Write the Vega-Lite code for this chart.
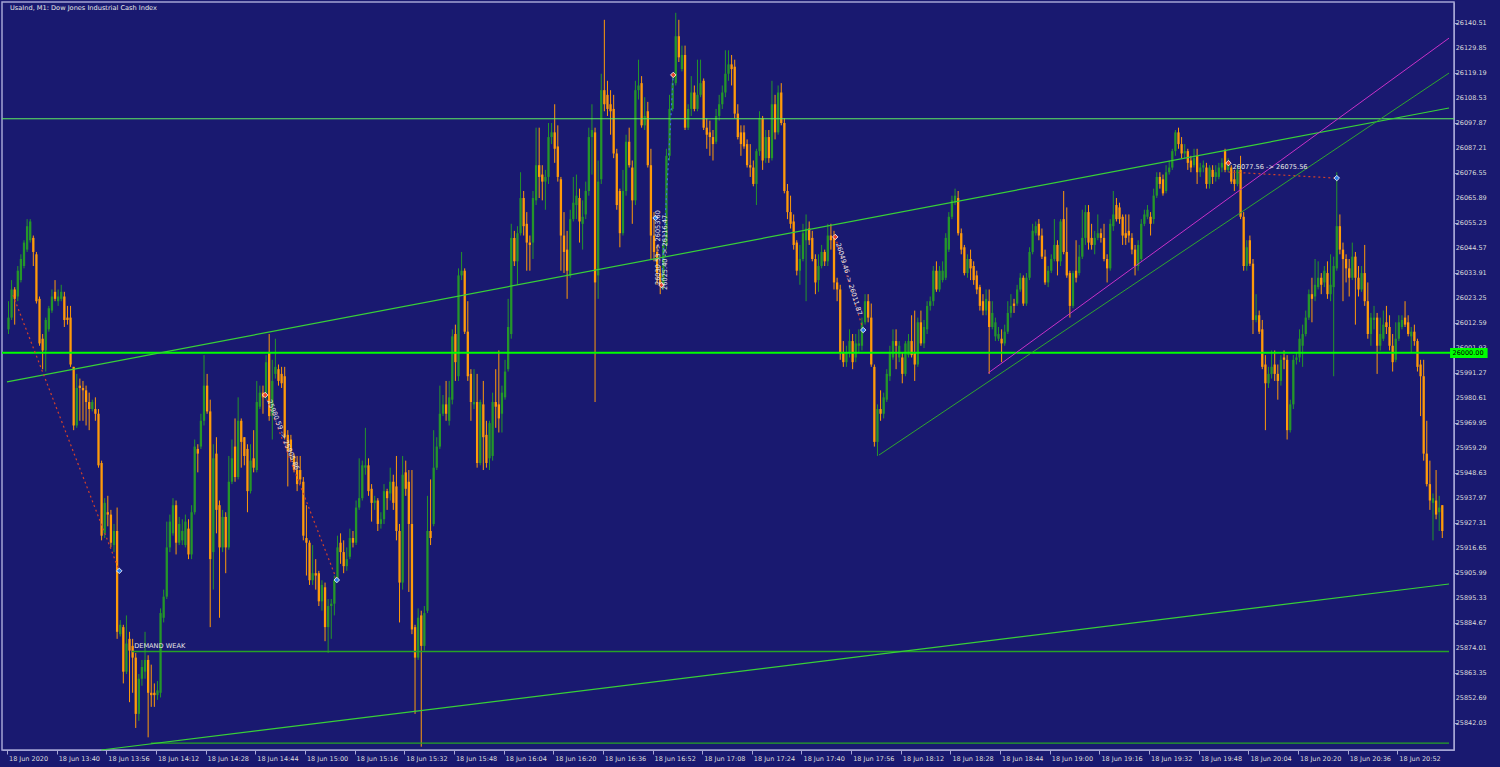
{
  "$schema": "https://vega.github.io/schema/vega-lite/v6.json",
  "description": "UsaInd M1 candles, 18 Jun 2020",
  "width": 1452,
  "height": 748,
  "autosize": {"type": "none"},
  "padding": {"left": 2, "top": 2, "right": 46, "bottom": 17},
  "background": "#191970",
  "config": {
    "view": {"stroke": "#a4a4d4", "strokeWidth": 1.5},
    "font": "DejaVu Sans",
    "axis": {"grid": false, "domainColor": "#a4a4d4", "tickColor": "#a4a4d4", "tickSize": 4, "labelColor": "#dcdcdc", "labelFont": "DejaVu Sans", "labelFontSize": 6.5, "labelOverlap": false, "labelBound": false, "labelFlush": false}
  },
  "datasets": {
    "candles": [
      {"t":0,"o":26010,"h":26022,"l":26008,"c":26015},{"t":1,"o":26015,"h":26031,"l":26014,"c":26027},{"t":2,"o":26027,"h":26028,"l":26012,"c":26023},{"t":3,"o":26024,"h":26037,"l":26022,"c":26035},{"t":4,"o":26031,"h":26042,"l":26030,"c":26040},
      {"t":5,"o":26037,"h":26048,"l":26036,"c":26047},{"t":6,"o":26044,"h":26057,"l":26043,"c":26054},{"t":7,"o":26048,"h":26057,"l":26047,"c":26056},{"t":8,"o":26049,"h":26050,"l":26037,"c":26043},{"t":9,"o":26042,"h":26043,"l":26021,"c":26022},
      {"t":10,"o":26023,"h":26024,"l":26003,"c":26004},{"t":11,"o":26006,"h":26008,"l":25993,"c":26001},{"t":12,"o":26001,"h":26015,"l":25992,"c":26014},{"t":13,"o":26010,"h":26020,"l":26009,"c":26019},{"t":14,"o":26018,"h":26027,"l":26017,"c":26024},
      {"t":15,"o":26026,"h":26031,"l":26022,"c":26023},{"t":16,"o":26022,"h":26027,"l":26020,"c":26024},{"t":17,"o":26023,"h":26029,"l":26022,"c":26026},{"t":18,"o":26024,"h":26026,"l":26011,"c":26014},{"t":19,"o":26015,"h":26020,"l":26012,"c":26014},
      {"t":20,"o":26015,"h":26020,"l":25994,"c":25995},{"t":21,"o":25994,"h":25994,"l":25967,"c":25969},{"t":22,"o":25969,"h":25991,"l":25968,"c":25985},{"t":23,"o":25986,"h":25989,"l":25971,"c":25985},{"t":24,"o":25985,"h":25988,"l":25971,"c":25984},
      {"t":25,"o":25984,"h":25986,"l":25969,"c":25979},{"t":26,"o":25979,"h":25983,"l":25967,"c":25976},{"t":27,"o":25976,"h":25980,"l":25975,"c":25979},{"t":28,"o":25976,"h":25981,"l":25971,"c":25974},{"t":29,"o":25974,"h":25976,"l":25951,"c":25952},
      {"t":30,"o":25953,"h":25954,"l":25920,"c":25922},{"t":31,"o":25923,"h":25938,"l":25921,"c":25936},{"t":32,"o":25932,"h":25939,"l":25926,"c":25931},{"t":33,"o":25931,"h":25933,"l":25917,"c":25919},{"t":34,"o":25918,"h":25927,"l":25915,"c":25924},
      {"t":35,"o":25924,"h":25934,"l":25878,"c":25881},{"t":36,"o":25880,"h":25886,"l":25879,"c":25884},{"t":37,"o":25883,"h":25884,"l":25859,"c":25864},{"t":38,"o":25864,"h":25888,"l":25863,"c":25876},{"t":39,"o":25878,"h":25881,"l":25851,"c":25873},
      {"t":40,"o":25875,"h":25878,"l":25855,"c":25870},{"t":41,"o":25870,"h":25872,"l":25840,"c":25846},{"t":42,"o":25846,"h":25863,"l":25843,"c":25861},{"t":43,"o":25861,"h":25869,"l":25858,"c":25866},{"t":44,"o":25864,"h":25881,"l":25861,"c":25869},
      {"t":45,"o":25869,"h":25871,"l":25836,"c":25855},{"t":46,"o":25855,"h":25867,"l":25849,"c":25854},{"t":47,"o":25855,"h":25859,"l":25849,"c":25854},{"t":48,"o":25854,"h":25860,"l":25852,"c":25856},{"t":49,"o":25855,"h":25891,"l":25853,"c":25889},
      {"t":50,"o":25887,"h":25899,"l":25885,"c":25896},{"t":51,"o":25896,"h":25928,"l":25895,"c":25917},{"t":52,"o":25917,"h":25931,"l":25915,"c":25928},{"t":53,"o":25923,"h":25938,"l":25922,"c":25935},{"t":54,"o":25935,"h":25937,"l":25914,"c":25919},
      {"t":55,"o":25919,"h":25930,"l":25918,"c":25927},{"t":56,"o":25920,"h":25929,"l":25918,"c":25924},{"t":57,"o":25918,"h":25931,"l":25917,"c":25928},{"t":58,"o":25925,"h":25929,"l":25912,"c":25914},{"t":59,"o":25914,"h":25935,"l":25912,"c":25932},
      {"t":60,"o":25932,"h":25963,"l":25931,"c":25960},{"t":61,"o":25959,"h":25961,"l":25949,"c":25957},{"t":62,"o":25960,"h":25974,"l":25959,"c":25971},{"t":63,"o":25971,"h":25999,"l":25969,"c":25986},{"t":64,"o":25986,"h":25991,"l":25974,"c":25975},
      {"t":65,"o":25975,"h":25980,"l":25883,"c":25912},{"t":66,"o":25915,"h":25961,"l":25899,"c":25955},{"t":67,"o":25957,"h":25964,"l":25923,"c":25933},{"t":68,"o":25935,"h":25937,"l":25887,"c":25917},{"t":69,"o":25917,"h":25933,"l":25915,"c":25930},
      {"t":70,"o":25930,"h":25932,"l":25906,"c":25917},{"t":71,"o":25917,"h":25956,"l":25916,"c":25945},{"t":72,"o":25945,"h":25963,"l":25944,"c":25955},{"t":73,"o":25960,"h":25972,"l":25945,"c":25947},{"t":74,"o":25947,"h":25981,"l":25946,"c":25971},
      {"t":75,"o":25971,"h":25972,"l":25951,"c":25962},{"t":76,"o":25964,"h":25964,"l":25952,"c":25956},{"t":77,"o":25959,"h":25961,"l":25932,"c":25941},{"t":78,"o":25941,"h":25961,"l":25940,"c":25954},{"t":79,"o":25955,"h":25967,"l":25949,"c":25951},
      {"t":80,"o":25950,"h":25988,"l":25949,"c":25979},{"t":81,"o":25977,"h":25986,"l":25976,"c":25983},{"t":82,"o":25983,"h":25986,"l":25974,"c":25981},{"t":83,"o":25981,"h":25999,"l":25980,"c":25996},{"t":84,"o":26000,"h":26008,"l":25971,"c":25973},
      {"t":85,"o":25973,"h":25997,"l":25963,"c":25988},{"t":86,"o":25991,"h":26006,"l":25989,"c":25994},{"t":87,"o":25993,"h":25995,"l":25986,"c":25988},{"t":88,"o":25991,"h":25994,"l":25985,"c":25987},{"t":89,"o":25990,"h":25994,"l":25963,"c":25964},
      {"t":90,"o":25965,"h":25967,"l":25943,"c":25958},{"t":91,"o":25963,"h":25965,"l":25954,"c":25958},{"t":92,"o":25956,"h":25957,"l":25949,"c":25950},{"t":93,"o":25950,"h":25956,"l":25941,"c":25944},{"t":94,"o":25950,"h":25956,"l":25944,"c":25946},
      {"t":95,"o":25945,"h":25947,"l":25920,"c":25922},{"t":96,"o":25921,"h":25935,"l":25905,"c":25919},{"t":97,"o":25919,"h":25920,"l":25901,"c":25903},{"t":98,"o":25903,"h":25918,"l":25901,"c":25906},{"t":99,"o":25906,"h":25912,"l":25899,"c":25905},
      {"t":100,"o":25906,"h":25907,"l":25892,"c":25894},{"t":101,"o":25894,"h":25903,"l":25890,"c":25901},{"t":102,"o":25900,"h":25902,"l":25877,"c":25883},{"t":103,"o":25883,"h":25895,"l":25872,"c":25892},{"t":104,"o":25892,"h":25895,"l":25878,"c":25893},
      {"t":105,"o":25893,"h":25905,"l":25888,"c":25903},{"t":106,"o":25903,"h":25922,"l":25902,"c":25917},{"t":107,"o":25919,"h":25923,"l":25910,"c":25915},{"t":108,"o":25915,"h":25920,"l":25906,"c":25909},{"t":109,"o":25909,"h":25917,"l":25907,"c":25912},
      {"t":110,"o":25913,"h":25925,"l":25912,"c":25921},{"t":111,"o":25921,"h":25924,"l":25917,"c":25919},{"t":112,"o":25919,"h":25937,"l":25918,"c":25934},{"t":113,"o":25934,"h":25955,"l":25933,"c":25938},{"t":114,"o":25938,"h":25954,"l":25937,"c":25952},
      {"t":115,"o":25951,"h":25968,"l":25948,"c":25952},{"t":116,"o":25952,"h":25955,"l":25939,"c":25941},{"t":117,"o":25942,"h":25944,"l":25928,"c":25936},{"t":118,"o":25936,"h":25939,"l":25933,"c":25937},{"t":119,"o":25937,"h":25938,"l":25924,"c":25927},
      {"t":120,"o":25927,"h":25932,"l":25925,"c":25929},{"t":121,"o":25929,"h":25944,"l":25927,"c":25941},{"t":122,"o":25941,"h":25942,"l":25933,"c":25938},{"t":123,"o":25940,"h":25951,"l":25937,"c":25945},{"t":124,"o":25945,"h":25948,"l":25933,"c":25936},
      {"t":125,"o":25943,"h":25956,"l":25920,"c":25924},{"t":126,"o":25924,"h":25927,"l":25885,"c":25902},{"t":127,"o":25902,"h":25956,"l":25899,"c":25948},{"t":128,"o":25949,"h":25954,"l":25939,"c":25942},{"t":129,"o":25945,"h":25950,"l":25898,"c":25927},
      {"t":130,"o":25927,"h":25950,"l":25880,"c":25882},{"t":131,"o":25883,"h":25884,"l":25846,"c":25870},{"t":132,"o":25870,"h":25891,"l":25869,"c":25887},{"t":133,"o":25888,"h":25890,"l":25832,"c":25875},{"t":134,"o":25875,"h":25892,"l":25873,"c":25889},
      {"t":135,"o":25890,"h":25939,"l":25889,"c":25924},{"t":136,"o":25924,"h":25946,"l":25918,"c":25921},{"t":137,"o":25927,"h":25967,"l":25926,"c":25951},{"t":138,"o":25951,"h":25964,"l":25950,"c":25960},{"t":139,"o":25960,"h":25986,"l":25959,"c":25974},
      {"t":140,"o":25974,"h":25982,"l":25973,"c":25978},{"t":141,"o":25978,"h":25988,"l":25971,"c":25974},{"t":142,"o":25971,"h":25988,"l":25969,"c":25981},{"t":143,"o":25980,"h":26010,"l":25978,"c":26007},{"t":144,"o":26008,"h":26012,"l":25988,"c":25996},
      {"t":145,"o":25990,"h":26036,"l":25988,"c":26033},{"t":146,"o":26033,"h":26043,"l":26031,"c":26035},{"t":147,"o":26035,"h":26036,"l":26008,"c":26009},{"t":148,"o":26009,"h":26022,"l":25988,"c":25990},{"t":149,"o":25991,"h":25993,"l":25971,"c":25979},
      {"t":150,"o":25978,"h":25993,"l":25976,"c":25979},{"t":151,"o":25979,"h":25991,"l":25951,"c":25953},{"t":152,"o":25953,"h":25980,"l":25952,"c":25979},{"t":153,"o":25978,"h":25988,"l":25950,"c":25964},{"t":154,"o":25965,"h":25971,"l":25951,"c":25953},
      {"t":155,"o":25955,"h":25971,"l":25950,"c":25970},{"t":156,"o":25956,"h":25983,"l":25954,"c":25979},{"t":157,"o":25979,"h":25993,"l":25968,"c":25977},{"t":158,"o":25978,"h":26001,"l":25966,"c":25972},{"t":159,"o":25974,"h":25986,"l":25966,"c":25983},
      {"t":160,"o":25981,"h":25997,"l":25980,"c":25992},{"t":161,"o":25993,"h":26023,"l":25992,"c":26011},{"t":162,"o":26008,"h":26055,"l":26006,"c":26049},{"t":163,"o":26049,"h":26052,"l":26037,"c":26039},{"t":164,"o":26039,"h":26054,"l":26029,"c":26051},
      {"t":165,"o":26051,"h":26077,"l":26050,"c":26066},{"t":166,"o":26066,"h":26069,"l":26050,"c":26054},{"t":167,"o":26055,"h":26060,"l":26035,"c":26047},{"t":168,"o":26047,"h":26050,"l":26035,"c":26046},{"t":169,"o":26047,"h":26069,"l":26040,"c":26066},
      {"t":170,"o":26065,"h":26096,"l":26063,"c":26080},{"t":171,"o":26080,"h":26096,"l":26066,"c":26075},{"t":172,"o":26076,"h":26080,"l":26065,"c":26073},{"t":173,"o":26073,"h":26078,"l":26061,"c":26075},{"t":174,"o":26075,"h":26098,"l":26072,"c":26092},
      {"t":175,"o":26092,"h":26098,"l":26089,"c":26094},{"t":176,"o":26094,"h":26106,"l":26081,"c":26087},{"t":177,"o":26088,"h":26097,"l":26073,"c":26075},{"t":178,"o":26074,"h":26075,"l":26035,"c":26050},{"t":179,"o":26050,"h":26060,"l":26034,"c":26043},
      {"t":180,"o":26044,"h":26052,"l":26023,"c":26035},{"t":181,"o":26033,"h":26061,"l":26032,"c":26057},{"t":182,"o":26057,"h":26075,"l":26056,"c":26064},{"t":183,"o":26063,"h":26076,"l":26057,"c":26067},{"t":184,"o":26066,"h":26070,"l":26047,"c":26056},
      {"t":185,"o":26055,"h":26065,"l":26044,"c":26058},{"t":186,"o":26059,"h":26073,"l":26057,"c":26069},{"t":187,"o":26069,"h":26096,"l":26067,"c":26092},{"t":188,"o":26092,"h":26106,"l":26076,"c":26095},{"t":189,"o":26094,"h":26096,"l":25979,"c":26030},
      {"t":190,"o":26033,"h":26082,"l":26023,"c":26073},{"t":191,"o":26074,"h":26119,"l":26072,"c":26112},{"t":192,"o":26112,"h":26142,"l":26103,"c":26106},{"t":193,"o":26110,"h":26116,"l":26101,"c":26104},{"t":194,"o":26106,"h":26112,"l":26093,"c":26103},
      {"t":195,"o":26104,"h":26110,"l":26083,"c":26085},{"t":196,"o":26085,"h":26087,"l":26061,"c":26063},{"t":197,"o":26069,"h":26070,"l":26045,"c":26051},{"t":198,"o":26051,"h":26078,"l":26050,"c":26069},{"t":199,"o":26069,"h":26093,"l":26067,"c":26090},
      {"t":200,"o":26090,"h":26096,"l":26079,"c":26080},{"t":201,"o":26079,"h":26082,"l":26055,"c":26065},{"t":202,"o":26065,"h":26116,"l":26063,"c":26112},{"t":203,"o":26112,"h":26125,"l":26108,"c":26114},{"t":204,"o":26115,"h":26118,"l":26096,"c":26097},
      {"t":205,"o":26097,"h":26109,"l":26095,"c":26101},{"t":206,"o":26103,"h":26107,"l":26079,"c":26080},{"t":207,"o":26080,"h":26087,"l":26040,"c":26050},{"t":208,"o":26050,"h":26060,"l":26039,"c":26043},{"t":209,"o":26043,"h":26046,"l":26029,"c":26034},
      {"t":210,"o":26034,"h":26037,"l":26025,"c":26029},{"t":211,"o":26029,"h":26048,"l":26027,"c":26046},{"t":212,"o":26046,"h":26087,"l":26044,"c":26084},{"t":213,"o":26084,"h":26110,"l":26082,"c":26104},{"t":214,"o":26104,"h":26118,"l":26103,"c":26115},
      {"t":215,"o":26115,"h":26145,"l":26114,"c":26135},{"t":216,"o":26135,"h":26142,"l":26124,"c":26126},{"t":217,"o":26121,"h":26131,"l":26120,"c":26127},{"t":218,"o":26127,"h":26131,"l":26095,"c":26096},{"t":219,"o":26096,"h":26106,"l":26095,"c":26104},
      {"t":220,"o":26104,"h":26118,"l":26101,"c":26111},{"t":221,"o":26111,"h":26114,"l":26103,"c":26104},{"t":222,"o":26104,"h":26125,"l":26103,"c":26110},{"t":223,"o":26110,"h":26125,"l":26109,"c":26115},{"t":224,"o":26116,"h":26117,"l":26095,"c":26096},
      {"t":225,"o":26096,"h":26100,"l":26087,"c":26093},{"t":226,"o":26094,"h":26099,"l":26084,"c":26092},{"t":227,"o":26092,"h":26095,"l":26082,"c":26089},{"t":228,"o":26090,"h":26104,"l":26089,"c":26101},{"t":229,"o":26101,"h":26110,"l":26099,"c":26106},
      {"t":230,"o":26106,"h":26114,"l":26104,"c":26111},{"t":231,"o":26111,"h":26129,"l":26109,"c":26119},{"t":232,"o":26119,"h":26129,"l":26116,"c":26123},{"t":233,"o":26123,"h":26127,"l":26114,"c":26121},{"t":234,"o":26122,"h":26125,"l":26100,"c":26102},
      {"t":235,"o":26102,"h":26106,"l":26091,"c":26092},{"t":236,"o":26094,"h":26097,"l":26084,"c":26089},{"t":237,"o":26094,"h":26097,"l":26087,"c":26088},{"t":238,"o":26089,"h":26091,"l":26079,"c":26080},{"t":239,"o":26080,"h":26089,"l":26075,"c":26079},
      {"t":240,"o":26079,"h":26082,"l":26071,"c":26072},{"t":241,"o":26072,"h":26087,"l":26063,"c":26086},{"t":242,"o":26086,"h":26103,"l":26084,"c":26100},{"t":243,"o":26100,"h":26101,"l":26078,"c":26082},{"t":244,"o":26083,"h":26095,"l":26081,"c":26092},
      {"t":245,"o":26092,"h":26095,"l":26081,"c":26083},{"t":246,"o":26083,"h":26116,"l":26082,"c":26106},{"t":247,"o":26106,"h":26110,"l":26091,"c":26094},{"t":248,"o":26094,"h":26114,"l":26093,"c":26111},{"t":249,"o":26111,"h":26115,"l":26097,"c":26098},
      {"t":250,"o":26098,"h":26100,"l":26068,"c":26069},{"t":251,"o":26069,"h":26072,"l":26057,"c":26060},{"t":252,"o":26060,"h":26067,"l":26053,"c":26055},{"t":253,"o":26056,"h":26059,"l":26044,"c":26046},{"t":254,"o":26047,"h":26048,"l":26033,"c":26035},
      {"t":255,"o":26035,"h":26046,"l":26029,"c":26040},{"t":256,"o":26040,"h":26055,"l":26039,"c":26051},{"t":257,"o":26048,"h":26059,"l":26022,"c":26053},{"t":258,"o":26053,"h":26056,"l":26046,"c":26048},{"t":259,"o":26049,"h":26052,"l":26039,"c":26040},
      {"t":260,"o":26040,"h":26042,"l":26025,"c":26030},{"t":261,"o":26031,"h":26042,"l":26026,"c":26037},{"t":262,"o":26037,"h":26046,"l":26036,"c":26043},{"t":263,"o":26043,"h":26044,"l":26037,"c":26039},{"t":264,"o":26039,"h":26055,"l":26037,"c":26050},
      {"t":265,"o":26050,"h":26055,"l":26044,"c":26048},{"t":266,"o":26049,"h":26052,"l":26027,"c":26030},{"t":267,"o":26030,"h":26032,"l":26022,"c":26027},{"t":268,"o":26027,"h":26029,"l":25997,"c":26000},{"t":269,"o":26000,"h":26005,"l":25994,"c":25996},
      {"t":270,"o":25996,"h":26003,"l":25994,"c":26000},{"t":271,"o":26000,"h":26010,"l":25998,"c":26005},{"t":272,"o":26005,"h":26008,"l":25993,"c":25996},{"t":273,"o":25998,"h":26008,"l":25996,"c":26004},{"t":274,"o":26003,"h":26010,"l":26000,"c":26004},
      {"t":275,"o":26003,"h":26015,"l":26001,"c":26013},{"t":276,"o":26013,"h":26025,"l":26012,"c":26022},{"t":277,"o":26022,"h":26025,"l":26013,"c":26015},{"t":278,"o":26015,"h":26021,"l":25994,"c":25995},{"t":279,"o":25994,"h":25995,"l":25960,"c":25962},
      {"t":280,"o":25962,"h":25978,"l":25956,"c":25976},{"t":281,"o":25976,"h":25984,"l":25971,"c":25974},{"t":282,"o":25974,"h":25983,"l":25972,"c":25981},{"t":283,"o":25980,"h":25993,"l":25979,"c":25991},{"t":284,"o":25990,"h":26003,"l":25988,"c":26000},
      {"t":285,"o":25998,"h":26010,"l":25997,"c":26005},{"t":286,"o":26005,"h":26010,"l":25993,"c":26003},{"t":287,"o":25998,"h":26005,"l":25996,"c":26003},{"t":288,"o":25998,"h":26000,"l":25987,"c":25991},{"t":289,"o":25991,"h":26005,"l":25990,"c":26004},
      {"t":290,"o":25999,"h":26008,"l":25998,"c":26005},{"t":291,"o":26005,"h":26016,"l":25998,"c":25999},{"t":292,"o":26000,"h":26018,"l":25988,"c":25995},{"t":293,"o":25995,"h":26015,"l":25994,"c":26013},{"t":294,"o":26013,"h":26018,"l":26003,"c":26004},
      {"t":295,"o":26004,"h":26014,"l":26002,"c":26011},{"t":296,"o":26010,"h":26022,"l":26008,"c":26020},{"t":297,"o":26020,"h":26024,"l":26018,"c":26022},{"t":298,"o":26022,"h":26037,"l":26020,"c":26035},{"t":299,"o":26035,"h":26039,"l":26026,"c":26027},
      {"t":300,"o":26027,"h":26037,"l":26026,"c":26035},{"t":301,"o":26031,"h":26039,"l":26030,"c":26035},{"t":302,"o":26032,"h":26051,"l":26031,"c":26049},{"t":303,"o":26044,"h":26060,"l":26043,"c":26058},{"t":304,"o":26058,"h":26067,"l":26057,"c":26065},
      {"t":305,"o":26064,"h":26070,"l":26063,"c":26067},{"t":306,"o":26066,"h":26069,"l":26050,"c":26051},{"t":307,"o":26051,"h":26053,"l":26042,"c":26044},{"t":308,"o":26045,"h":26046,"l":26033,"c":26034},{"t":309,"o":26034,"h":26042,"l":26032,"c":26040},
      {"t":310,"o":26040,"h":26044,"l":26031,"c":26036},{"t":311,"o":26037,"h":26039,"l":26029,"c":26031},{"t":312,"o":26033,"h":26035,"l":26025,"c":26027},{"t":313,"o":26028,"h":26029,"l":26018,"c":26020},{"t":314,"o":26022,"h":26025,"l":26016,"c":26018},
      {"t":315,"o":26018,"h":26027,"l":26016,"c":26023},{"t":316,"o":26022,"h":26027,"l":25991,"c":26011},{"t":317,"o":26011,"h":26022,"l":26010,"c":26017},{"t":318,"o":26007,"h":26015,"l":26005,"c":26013},{"t":319,"o":26006,"h":26011,"l":26005,"c":26008},
      {"t":320,"o":26006,"h":26010,"l":25996,"c":26004},{"t":321,"o":26004,"h":26012,"l":26003,"c":26009},{"t":322,"o":26009,"h":26022,"l":26008,"c":26017},{"t":323,"o":26017,"h":26025,"l":26015,"c":26020},{"t":324,"o":26021,"h":26023,"l":26017,"c":26020},
      {"t":325,"o":26021,"h":26029,"l":26020,"c":26027},{"t":326,"o":26027,"h":26034,"l":26026,"c":26032},{"t":327,"o":26032,"h":26033,"l":26020,"c":26021},{"t":328,"o":26021,"h":26034,"l":26020,"c":26032},{"t":329,"o":26032,"h":26045,"l":26031,"c":26043},
      {"t":330,"o":26043,"h":26055,"l":26042,"c":26052},{"t":331,"o":26051,"h":26056,"l":26050,"c":26054},{"t":332,"o":26055,"h":26057,"l":26048,"c":26050},{"t":333,"o":26050,"h":26053,"l":26040,"c":26041},{"t":334,"o":26041,"h":26044,"l":26029,"c":26030},
      {"t":335,"o":26030,"h":26037,"l":26028,"c":26035},{"t":336,"o":26035,"h":26042,"l":26034,"c":26040},{"t":337,"o":26040,"h":26057,"l":26039,"c":26046},{"t":338,"o":26046,"h":26048,"l":26033,"c":26039},{"t":339,"o":26039,"h":26057,"l":26037,"c":26056},
      {"t":340,"o":26057,"h":26069,"l":26042,"c":26043},{"t":341,"o":26043,"h":26062,"l":26032,"c":26033},{"t":342,"o":26034,"h":26035,"l":26015,"c":26020},{"t":343,"o":26020,"h":26035,"l":26019,"c":26034},{"t":344,"o":26035,"h":26048,"l":26030,"c":26032},
      {"t":345,"o":26034,"h":26046,"l":26033,"c":26041},{"t":346,"o":26041,"h":26061,"l":26040,"c":26049},{"t":347,"o":26049,"h":26063,"l":26046,"c":26060},{"t":348,"o":26060,"h":26063,"l":26044,"c":26047},{"t":349,"o":26049,"h":26055,"l":26044,"c":26046},
      {"t":350,"o":26046,"h":26052,"l":26042,"c":26049},{"t":351,"o":26049,"h":26059,"l":26048,"c":26051},{"t":352,"o":26051,"h":26053,"l":26047,"c":26049},{"t":353,"o":26049,"h":26055,"l":26039,"c":26040},{"t":354,"o":26040,"h":26042,"l":26030,"c":26036},
      {"t":355,"o":26036,"h":26057,"l":26035,"c":26055},{"t":356,"o":26054,"h":26069,"l":26052,"c":26059},{"t":357,"o":26063,"h":26066,"l":26056,"c":26057},{"t":358,"o":26062,"h":26064,"l":26055,"c":26057},{"t":359,"o":26058,"h":26059,"l":26046,"c":26050},
      {"t":360,"o":26051,"h":26059,"l":26046,"c":26049},{"t":361,"o":26052,"h":26059,"l":26047,"c":26050},{"t":362,"o":26049,"h":26051,"l":26042,"c":26044},{"t":363,"o":26044,"h":26046,"l":26033,"c":26037},{"t":364,"o":26037,"h":26048,"l":26035,"c":26046},
      {"t":365,"o":26040,"h":26057,"l":26039,"c":26055},{"t":366,"o":26055,"h":26061,"l":26054,"c":26059},{"t":367,"o":26058,"h":26063,"l":26057,"c":26061},{"t":368,"o":26058,"h":26060,"l":26050,"c":26055},{"t":369,"o":26057,"h":26070,"l":26055,"c":26067},
      {"t":370,"o":26067,"h":26077,"l":26066,"c":26075},{"t":371,"o":26075,"h":26077,"l":26070,"c":26072},{"t":372,"o":26074,"h":26076,"l":26067,"c":26068},{"t":373,"o":26069,"h":26080,"l":26068,"c":26077},{"t":374,"o":26077,"h":26082,"l":26076,"c":26079},
      {"t":375,"o":26079,"h":26087,"l":26078,"c":26086},{"t":376,"o":26086,"h":26095,"l":26084,"c":26094},{"t":377,"o":26094,"h":26096,"l":26087,"c":26089},{"t":378,"o":26089,"h":26092,"l":26083,"c":26085},{"t":379,"o":26085,"h":26089,"l":26083,"c":26086},
      {"t":380,"o":26086,"h":26087,"l":26078,"c":26081},{"t":381,"o":26082,"h":26084,"l":26077,"c":26079},{"t":382,"o":26080,"h":26087,"l":26079,"c":26083},{"t":383,"o":26084,"h":26087,"l":26072,"c":26077},{"t":384,"o":26077,"h":26081,"l":26075,"c":26079},
      {"t":385,"o":26079,"h":26082,"l":26077,"c":26080},{"t":386,"o":26079,"h":26081,"l":26070,"c":26072},{"t":387,"o":26072,"h":26080,"l":26070,"c":26079},{"t":388,"o":26078,"h":26080,"l":26072,"c":26075},{"t":389,"o":26075,"h":26080,"l":26073,"c":26077},
      {"t":390,"o":26075,"h":26081,"l":26074,"c":26079},{"t":391,"o":26079,"h":26083,"l":26077,"c":26081},{"t":392,"o":26086,"h":26087,"l":26077,"c":26078},{"t":393,"o":26078,"h":26083,"l":26077,"c":26081},{"t":394,"o":26079,"h":26080,"l":26072,"c":26073},
      {"t":395,"o":26074,"h":26078,"l":26069,"c":26072},{"t":396,"o":26072,"h":26080,"l":26071,"c":26078},{"t":397,"o":26078,"h":26084,"l":26057,"c":26058},{"t":398,"o":26058,"h":26060,"l":26035,"c":26037},{"t":399,"o":26037,"h":26048,"l":26035,"c":26045},
      {"t":400,"o":26048,"h":26050,"l":26037,"c":26038},{"t":401,"o":26038,"h":26040,"l":26008,"c":26014},{"t":402,"o":26014,"h":26025,"l":26013,"c":26016},{"t":403,"o":26016,"h":26018,"l":26008,"c":26009},{"t":404,"o":26010,"h":26014,"l":25993,"c":25994},
      {"t":405,"o":25995,"h":25999,"l":25967,"c":25987},{"t":406,"o":25987,"h":25994,"l":25985,"c":25991},{"t":407,"o":25991,"h":26001,"l":25989,"c":25994},{"t":408,"o":25995,"h":26001,"l":25988,"c":25991},{"t":409,"o":25991,"h":25995,"l":25980,"c":25988},
      {"t":410,"o":25988,"h":25999,"l":25986,"c":25997},{"t":411,"o":25998,"h":26001,"l":25993,"c":25997},{"t":412,"o":25997,"h":25999,"l":25963,"c":25967},{"t":413,"o":25967,"h":25980,"l":25966,"c":25978},{"t":414,"o":25978,"h":25999,"l":25976,"c":25997},
      {"t":415,"o":25997,"h":26000,"l":25995,"c":25998},{"t":416,"o":25998,"h":26010,"l":25996,"c":26006},{"t":417,"o":26003,"h":26012,"l":25994,"c":26008},{"t":418,"o":26008,"h":26018,"l":26007,"c":26015},{"t":419,"o":26015,"h":26027,"l":26014,"c":26025},
      {"t":420,"o":26025,"h":26032,"l":26013,"c":26023},{"t":421,"o":26024,"h":26040,"l":26022,"c":26029},{"t":422,"o":26028,"h":26039,"l":26027,"c":26032},{"t":423,"o":26032,"h":26034,"l":26025,"c":26029},{"t":424,"o":26030,"h":26037,"l":26028,"c":26035},
      {"t":425,"o":26034,"h":26039,"l":26023,"c":26025},{"t":426,"o":26025,"h":26042,"l":26022,"c":26029},{"t":427,"o":26028,"h":26041,"l":25990,"c":26037},{"t":428,"o":26036,"h":26077,"l":26035,"c":26054},{"t":429,"o":26054,"h":26059,"l":26042,"c":26044},
      {"t":430,"o":26044,"h":26047,"l":26022,"c":26040},{"t":431,"o":26040,"h":26042,"l":26030,"c":26036},{"t":432,"o":26036,"h":26040,"l":26024,"c":26032},{"t":433,"o":26032,"h":26047,"l":26031,"c":26041},{"t":434,"o":26041,"h":26043,"l":26012,"c":26032},
      {"t":435,"o":26032,"h":26037,"l":26024,"c":26027},{"t":436,"o":26027,"h":26037,"l":26026,"c":26034},{"t":437,"o":26034,"h":26046,"l":26020,"c":26022},{"t":438,"o":26022,"h":26030,"l":26006,"c":26008},{"t":439,"o":26008,"h":26017,"l":26003,"c":26015},
      {"t":440,"o":26014,"h":26020,"l":26010,"c":26015},{"t":441,"o":26015,"h":26017,"l":25991,"c":26003},{"t":442,"o":26003,"h":26015,"l":26001,"c":26008},{"t":443,"o":26006,"h":26018,"l":26005,"c":26012},{"t":444,"o":26013,"h":26020,"l":26008,"c":26011},
      {"t":445,"o":26011,"h":26016,"l":26001,"c":26003},{"t":446,"o":26003,"h":26008,"l":25992,"c":25996},{"t":447,"o":25997,"h":26013,"l":25996,"c":26006},{"t":448,"o":26006,"h":26016,"l":26005,"c":26013},{"t":449,"o":26011,"h":26016,"l":26010,"c":26014},
      {"t":450,"o":26015,"h":26022,"l":26011,"c":26012},{"t":451,"o":26013,"h":26016,"l":26007,"c":26008},{"t":452,"o":26007,"h":26011,"l":26000,"c":26009},{"t":453,"o":26009,"h":26012,"l":26003,"c":26005},{"t":454,"o":26005,"h":26006,"l":25992,"c":25994},
      {"t":455,"o":25995,"h":25997,"l":25973,"c":25990},{"t":456,"o":25990,"h":25997,"l":25954,"c":25957},{"t":457,"o":25957,"h":25971,"l":25943,"c":25944},{"t":458,"o":25944,"h":25954,"l":25933,"c":25937},{"t":459,"o":25936,"h":25940,"l":25920,"c":25938},
      {"t":460,"o":25937,"h":25950,"l":25929,"c":25931},{"t":461,"o":25932,"h":25939,"l":25924,"c":25934},{"t":462,"o":25935,"h":25935,"l":25921,"c":25924}
    ],
    "priceLabels": [
      {"p": 26140.51}, {"p": 26129.85}, {"p": 26119.19}, {"p": 26108.53}, {"p": 26097.87}, {"p": 26087.21}, {"p": 26076.55}, {"p": 26065.89}, {"p": 26055.23}, {"p": 26044.57},
      {"p": 26033.91}, {"p": 26023.25}, {"p": 26012.59}, {"p": 26001.93}, {"p": 25991.27}, {"p": 25980.61}, {"p": 25969.95}, {"p": 25959.29}, {"p": 25948.63}, {"p": 25937.97},
      {"p": 25927.31}, {"p": 25916.65}, {"p": 25905.99}, {"p": 25895.33}, {"p": 25884.67}, {"p": 25874.01}, {"p": 25863.35}, {"p": 25852.69}, {"p": 25842.03}
    ]
  },
  "layer": [
    {
      "data": {"name": "candles"},
      "mark": {"type": "rule", "strokeWidth": 1},
      "encoding": {
        "x": {
          "field": "t", "type": "quantitative", "title": null,
          "scale": {"domain": [-0.48, 464.16], "nice": false, "zero": false},
          "axis": {
            "orient": "bottom", "title": null,
            "values": [-0.48, 15.52, 31.52, 47.52, 63.52, 79.52, 95.52, 111.52, 127.52, 143.52, 159.52, 175.52, 191.52, 207.52, 223.52, 239.52, 255.52, 271.52, 287.52, 303.52, 319.52, 335.52, 351.52, 367.52, 383.52, 399.52, 415.52, 431.52, 447.52],
            "labelExpr": "datum.value < 1 ? '18 Jun 2020' : '18 Jun ' + floor((804 + round(datum.value)) / 60) + ':' + (((804 + round(datum.value)) % 60) < 10 ? '0' : '') + ((804 + round(datum.value)) % 60)",
            "labelAlign": "left", "labelBaseline": "top", "labelPadding": 1, "labelOffset": 1.5,
            "labelOverlap": false, "labelBound": false, "labelFlush": false
          }
        },
        "y": {
          "field": "l", "type": "quantitative", "title": null,
          "scale": {"domain": [25830.6, 26149.6], "nice": false, "zero": false},
          "axis": {
            "orient": "right", "title": null, "labels": false,
            "values": [26140.51, 26129.85, 26119.19, 26108.53, 26097.87, 26087.21, 26076.55, 26065.89, 26055.23, 26044.57, 26033.91, 26023.25, 26012.59, 26001.93, 25991.27, 25980.61, 25969.95, 25959.29, 25948.63, 25937.97, 25927.31, 25916.65, 25905.99, 25895.33, 25884.67, 25874.01, 25863.35, 25852.69, 25842.03]
          }
        },
        "y2": {"field": "h"},
        "color": {"condition": {"test": "datum.c < datum.o", "value": "#ff9a0a"}, "value": "#24962a"}
      }
    },
    {
      "data": {"name": "candles"},
      "mark": {"type": "bar", "size": 2.3},
      "encoding": {
        "x": {"field": "t", "type": "quantitative", "title": null, "scale": {"domain": [-0.48, 464.16], "nice": false, "zero": false}},
        "y": {"field": "o", "type": "quantitative", "title": null, "scale": {"domain": [25830.6, 26149.6], "nice": false, "zero": false}},
        "y2": {"field": "c"},
        "color": {"condition": {"test": "datum.c < datum.o", "value": "#ff9a0a"}, "value": "#24962a"}
      }
    },
    {
      "data": {"values": [{"p": 26099.8}]},
      "mark": {"type": "rule", "color": "#5ef05e", "strokeWidth": 1},
      "encoding": {
        "y": {"field": "p", "type": "quantitative", "title": null, "scale": {"domain": [25830.6, 26149.6], "nice": false, "zero": false}}
      }
    },
    {
      "data": {"values": [{"p": 26000}]},
      "mark": {"type": "rule", "color": "#00ff00", "strokeWidth": 2},
      "encoding": {
        "y": {"field": "p", "type": "quantitative", "title": null, "scale": {"domain": [25830.6, 26149.6], "nice": false, "zero": false}}
      }
    },
    {
      "data": {"values": [{"t1": 39.8, "t2": 464.16, "p": 25872.6}, {"t1": 45.9, "t2": 464.16, "p": 25833.5}]},
      "mark": {"type": "rule", "color": "#26a326", "strokeWidth": 1.3},
      "encoding": {
        "x": {"field": "t1", "type": "quantitative", "title": null, "scale": {"domain": [-0.48, 464.16], "nice": false, "zero": false}},
        "x2": {"field": "t2"},
        "y": {"field": "p", "type": "quantitative", "title": null, "scale": {"domain": [25830.6, 26149.6], "nice": false, "zero": false}}
      }
    },
    {
      "data": {"values": [{"t1": -0.48, "p1": 25987.6, "t2": 464.16, "p2": 26104.4}, {"t1": 29.9, "p1": 25830.6, "t2": 464.16, "p2": 25901.4}]},
      "mark": {"type": "rule", "color": "#38d038", "strokeWidth": 1.2},
      "encoding": {
        "x": {"field": "t1", "type": "quantitative", "title": null, "scale": {"domain": [-0.48, 464.16], "nice": false, "zero": false}},
        "x2": {"field": "t2"},
        "y": {"field": "p1", "type": "quantitative", "title": null, "scale": {"domain": [25830.6, 26149.6], "nice": false, "zero": false}},
        "y2": {"field": "p2"}
      }
    },
    {
      "data": {"values": [{"t1": 280.5, "p1": 25956.4, "t2": 464.16, "p2": 26119.3}]},
      "mark": {"type": "rule", "color": "#2fa62f", "strokeWidth": 1},
      "encoding": {
        "x": {"field": "t1", "type": "quantitative", "title": null, "scale": {"domain": [-0.48, 464.16], "nice": false, "zero": false}},
        "x2": {"field": "t2"},
        "y": {"field": "p1", "type": "quantitative", "title": null, "scale": {"domain": [25830.6, 26149.6], "nice": false, "zero": false}},
        "y2": {"field": "p2"}
      }
    },
    {
      "data": {"values": [{"t1": 315.7, "p1": 25991.4, "t2": 464.16, "p2": 26134.2}]},
      "mark": {"type": "rule", "color": "#c832c8", "strokeWidth": 1},
      "encoding": {
        "x": {"field": "t1", "type": "quantitative", "title": null, "scale": {"domain": [-0.48, 464.16], "nice": false, "zero": false}},
        "x2": {"field": "t2"},
        "y": {"field": "p1", "type": "quantitative", "title": null, "scale": {"domain": [25830.6, 26149.6], "nice": false, "zero": false}},
        "y2": {"field": "p2"}
      }
    },
    {
      "data": {"values": [
        {"t1": 1.44, "p1": 26024.6, "t2": 35.7, "p2": 25907.0},
        {"t1": 82.7, "p1": 25982.0, "t2": 105.8, "p2": 25903.1},
        {"t1": 266.4, "p1": 26049.4, "t2": 275.4, "p2": 26009.7},
        {"t1": 393.1, "p1": 26077.1, "t2": 427.7, "p2": 26074.5}
      ]},
      "mark": {"type": "rule", "color": "#d2412a", "strokeWidth": 1.2, "strokeDash": [2, 3]},
      "encoding": {
        "x": {"field": "t1", "type": "quantitative", "title": null, "scale": {"domain": [-0.48, 464.16], "nice": false, "zero": false}},
        "x2": {"field": "t2"},
        "y": {"field": "p1", "type": "quantitative", "title": null, "scale": {"domain": [25830.6, 26149.6], "nice": false, "zero": false}},
        "y2": {"field": "p2"}
      }
    },
    {
      "data": {"values": [{"t1": 210.4, "p1": 26028.9, "t2": 214.2, "p2": 26118.5}]},
      "mark": {"type": "rule", "color": "#3f6fe8", "strokeWidth": 1.2, "strokeDash": [2, 3]},
      "encoding": {
        "x": {"field": "t1", "type": "quantitative", "title": null, "scale": {"domain": [-0.48, 464.16], "nice": false, "zero": false}},
        "x2": {"field": "t2"},
        "y": {"field": "p1", "type": "quantitative", "title": null, "scale": {"domain": [25830.6, 26149.6], "nice": false, "zero": false}},
        "y2": {"field": "p2"}
      }
    },
    {
      "data": {"values": [
        {"t": 82.7, "p": 25982.0}, {"t": 266.4, "p": 26049.4}, {"t": 210.4, "p": 26028.9}, {"t": 214.2, "p": 26118.5}, {"t": 393.1, "p": 26080.9}
      ]},
      "mark": {"type": "point", "shape": "diamond", "filled": true, "size": 30, "color": "#e8442a", "stroke": "#ffffff", "strokeWidth": 0.8, "opacity": 1},
      "encoding": {
        "x": {"field": "t", "type": "quantitative", "title": null, "scale": {"domain": [-0.48, 464.16], "nice": false, "zero": false}},
        "y": {"field": "p", "type": "quantitative", "title": null, "scale": {"domain": [25830.6, 26149.6], "nice": false, "zero": false}}
      }
    },
    {
      "data": {"values": [
        {"t": 35.7, "p": 25907.0}, {"t": 105.8, "p": 25903.1}, {"t": 275.4, "p": 26009.7}, {"t": 208.5, "p": 26057.5}, {"t": 428.0, "p": 26074.5}
      ]},
      "mark": {"type": "point", "shape": "diamond", "filled": true, "size": 30, "color": "#2c7be8", "stroke": "#ffffff", "strokeWidth": 0.8, "opacity": 1},
      "encoding": {
        "x": {"field": "t", "type": "quantitative", "title": null, "scale": {"domain": [-0.48, 464.16], "nice": false, "zero": false}},
        "y": {"field": "p", "type": "quantitative", "title": null, "scale": {"domain": [25830.6, 26149.6], "nice": false, "zero": false}}
      }
    },
    {
      "data": {"values": [{"t": 83.6, "p": 25981.0, "label": "25980.59 -> 25905.86"}]},
      "mark": {"type": "text", "angle": 68, "align": "left", "baseline": "middle", "dx": 3, "font": "DejaVu Sans", "fontSize": 6.6, "color": "#e6e6e6"},
      "encoding": {
        "x": {"field": "t", "type": "quantitative", "title": null, "scale": {"domain": [-0.48, 464.16], "nice": false, "zero": false}},
        "y": {"field": "p", "type": "quantitative", "title": null, "scale": {"domain": [25830.6, 26149.6], "nice": false, "zero": false}},
        "text": {"field": "label"}
      }
    },
    {
      "data": {"values": [{"t": 267.0, "p": 26048.0, "label": "26049.46 -> 26011.87"}]},
      "mark": {"type": "text", "angle": 73, "align": "left", "baseline": "middle", "dx": 3, "font": "DejaVu Sans", "fontSize": 6.6, "color": "#e6e6e6"},
      "encoding": {
        "x": {"field": "t", "type": "quantitative", "title": null, "scale": {"domain": [-0.48, 464.16], "nice": false, "zero": false}},
        "y": {"field": "p", "type": "quantitative", "title": null, "scale": {"domain": [25830.6, 26149.6], "nice": false, "zero": false}},
        "text": {"field": "label"}
      }
    },
    {
      "data": {"values": [
        {"t": 211.7, "p": 26026.8, "label": "26025.40 -> 26116.47"},
        {"t": 209.4, "p": 26028.9, "label": "26030.53 -> 26053.60"}
      ]},
      "mark": {"type": "text", "angle": 270, "align": "left", "baseline": "middle", "font": "DejaVu Sans", "fontSize": 6.6, "color": "#e6e6e6"},
      "encoding": {
        "x": {"field": "t", "type": "quantitative", "title": null, "scale": {"domain": [-0.48, 464.16], "nice": false, "zero": false}},
        "y": {"field": "p", "type": "quantitative", "title": null, "scale": {"domain": [25830.6, 26149.6], "nice": false, "zero": false}},
        "text": {"field": "label"}
      }
    },
    {
      "data": {"values": [
        {"t": 394.4, "p": 26078.4, "label": "26077.56 -> 26075.56"},
        {"t": 40.5, "p": 25874.0, "label": "DEMAND WEAK"},
        {"t": 0.5, "p": 26146.2, "label": "UsaInd, M1:  Dow Jones Industrial Cash Index"}
      ]},
      "mark": {"type": "text", "align": "left", "baseline": "alphabetic", "font": "DejaVu Sans", "fontSize": 6.6, "color": "#e6e6e6"},
      "encoding": {
        "x": {"field": "t", "type": "quantitative", "title": null, "scale": {"domain": [-0.48, 464.16], "nice": false, "zero": false}},
        "y": {"field": "p", "type": "quantitative", "title": null, "scale": {"domain": [25830.6, 26149.6], "nice": false, "zero": false}},
        "text": {"field": "label"}
      }
    },
    {
      "data": {"name": "priceLabels"},
      "mark": {"type": "text", "align": "left", "baseline": "middle", "font": "DejaVu Sans", "fontSize": 6.5, "color": "#dcdcdc"},
      "encoding": {
        "x": {"datum": 466.3, "type": "quantitative", "title": null, "scale": {"domain": [-0.48, 464.16], "nice": false, "zero": false}},
        "y": {"field": "p", "type": "quantitative", "title": null, "scale": {"domain": [25830.6, 26149.6], "nice": false, "zero": false}},
        "text": {"field": "p", "type": "quantitative", "format": ".2f"}
      }
    },
    {
      "data": {"values": [{"t1": 464.5, "t2": 476.6, "p1": 26002.0, "p2": 25997.8}]},
      "mark": {"type": "rect", "color": "#00ff00"},
      "encoding": {
        "x": {"field": "t1", "type": "quantitative", "title": null, "scale": {"domain": [-0.48, 464.16], "nice": false, "zero": false}},
        "x2": {"field": "t2"},
        "y": {"field": "p1", "type": "quantitative", "title": null, "scale": {"domain": [25830.6, 26149.6], "nice": false, "zero": false}},
        "y2": {"field": "p2"}
      }
    },
    {
      "data": {"values": [{"t": 465.3, "p": 26000, "label": "26000.00"}]},
      "mark": {"type": "text", "align": "left", "baseline": "middle", "font": "DejaVu Sans", "fontSize": 6.5, "color": "#000000"},
      "encoding": {
        "x": {"field": "t", "type": "quantitative", "title": null, "scale": {"domain": [-0.48, 464.16], "nice": false, "zero": false}},
        "y": {"field": "p", "type": "quantitative", "title": null, "scale": {"domain": [25830.6, 26149.6], "nice": false, "zero": false}},
        "text": {"field": "label"}
      }
    }
  ]
}
